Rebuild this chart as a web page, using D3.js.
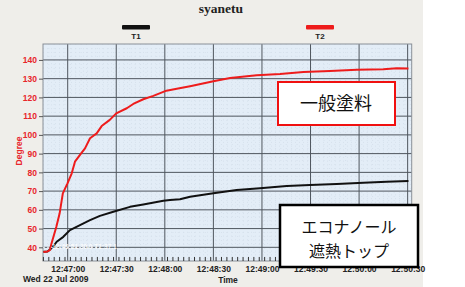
<!DOCTYPE html>
<html>
<head>
<meta charset="utf-8">
<script src="https://cdn.jsdelivr.net/npm/d3@7"></script>
<style>
  body { margin: 0; background: #fff; }
  svg { display: block; }
  .lbl { font-family: "Liberation Sans", Arial, sans-serif; font-weight: bold; }
  .jp { font-family: "Noto Sans CJK JP", sans-serif; }
</style>
</head>
<body>
<svg id="chart" width="465" height="287"></svg>
<script>
// seconds relative to 12:47:00 on Wed 22 Jul 2009
const t1Secs = [-15, -12.5, -10, -8, -6.8, -2.7, 1.4, 7.6, 13.8, 19.9, 28.2, 38.5, 46.7, 59.1, 63.2, 69.4, 75.6, 90, 104.4, 118.8, 135.3, 149.7, 166.2, 182.6, 197, 210.5];
const t1Vals = [37.6, 37.8, 39.5, 41.5, 43, 45.6, 49.2, 51.9, 54.5, 56.8, 59, 61.6, 62.9, 64.8, 65.2, 65.7, 67, 68.8, 70.6, 71.5, 72.7, 73.2, 73.8, 74.5, 75, 75.4];

const t2Secs = [-15, -12.5, -11, -10, -7, -5, -3, -0.2, 2.5, 4.5, 7.6, 10.7, 13.8, 17.9, 21, 26, 30, 36.5, 40.5, 46.7, 52.9, 61, 69, 75.6, 90, 100.3, 116.8, 131.2, 145.6, 162, 178.6, 195, 203.3, 210.5];
const t2Vals = [37.5, 37.8, 38.5, 42, 51, 58, 68.8, 74, 79.5, 85.7, 89.3, 92.8, 98.2, 100.8, 104.7, 108, 111.5, 114.2, 116.5, 119, 120.8, 123.6, 124.9, 126, 128.6, 130.3, 131.8, 132.5, 133.6, 134.1, 134.7, 135, 135.5, 135.4];

const yTicks = [40, 50, 60, 70, 80, 90, 100, 110, 120, 130, 140];
const xTickSecs = [0, 30, 60, 90, 120, 150, 180, 210];
const seriesNames = ["T1", "T2"];
const seriesColors = ["#111111", "#ee1c1c"];

const base = new Date(2009, 6, 22, 12, 47, 0);
const at = s => new Date(base.getTime() + s * 1000);

const svg = d3.select("#chart");
const plotL = 43, plotR = 411.7, plotT = 44, plotB = 261;

const x = d3.scaleTime().domain([at(-15.25), at(212.5)]).range([plotL, plotR]);
const y = d3.scaleLinear().domain([32.7, 148.5]).range([plotB, plotT]);

// page background
svg.append("rect").attr("x", 0).attr("y", 0).attr("width", 423).attr("height", 287).attr("fill", "#efeeea");

// plot area
svg.append("rect").attr("x", plotL).attr("y", plotT).attr("width", plotR - plotL).attr("height", plotB - plotT)
  .attr("fill", "#e3edf7");

// minor grid
const minorY = d3.range(34, 148, 2).filter(v => v % 10 !== 0);
svg.append("g").selectAll("line").data(minorY).join("line")
  .attr("x1", plotL).attr("x2", plotR).attr("y1", d => y(d)).attr("y2", d => y(d))
  .attr("stroke", "#d6e1ec").attr("stroke-dasharray", "1,3");
const minorX = d3.range(-15, 212, 10 / 3);
svg.append("g").selectAll("line").data(minorX).join("line")
  .attr("x1", d => x(at(d))).attr("x2", d => x(at(d))).attr("y1", plotT).attr("y2", plotB)
  .attr("stroke", "#d6e1ec").attr("stroke-dasharray", "1,3");

// major grid
svg.append("g").selectAll("line").data(yTicks).join("line")
  .attr("x1", plotL).attr("x2", plotR).attr("y1", d => y(d)).attr("y2", d => y(d))
  .attr("stroke", "#4f565e").attr("stroke-width", 1);
svg.append("g").selectAll("line").data(xTickSecs).join("line")
  .attr("x1", d => x(at(d))).attr("x2", d => x(at(d))).attr("y1", plotT).attr("y2", plotB)
  .attr("stroke", "#4f565e").attr("stroke-width", 1);

svg.append("rect").attr("x", plotL).attr("y", plotT).attr("width", plotR - plotL).attr("height", plotB - plotT)
  .attr("fill", "none").attr("stroke", "#8a9098");

// minor ticks along bottom, pointing up
svg.append("g").selectAll("line").data(minorX).join("line")
  .attr("x1", d => x(at(d))).attr("x2", d => x(at(d))).attr("y1", plotB).attr("y2", plotB - 4)
  .attr("stroke", "#333");

// y axis
const yAxis = svg.append("g").attr("transform", `translate(${plotL},0)`)
  .call(d3.axisLeft(y).tickValues(yTicks).tickSize(4).tickPadding(2));
yAxis.select(".domain").remove();
yAxis.selectAll("line").attr("stroke", "#555");
yAxis.selectAll("text").attr("class", "lbl").attr("fill", "#e8262b").attr("font-size", 8.5);

// x axis
const xAxis = svg.append("g").attr("transform", `translate(0,${plotB})`)
  .call(d3.axisBottom(x).tickValues(xTickSecs.map(at)).tickFormat(d3.timeFormat("%H:%M:%S")).tickSize(0).tickPadding(5));
xAxis.select(".domain").remove();
xAxis.selectAll("text").attr("class", "lbl").attr("fill", "#222").attr("font-size", 8.5);

svg.append("text").attr("class", "lbl").attr("x", 23).attr("y", 282).attr("font-size", 8.5).attr("fill", "#222")
  .text("Wed 22 Jul 2009");
svg.append("text").attr("class", "lbl").attr("x", 228).attr("y", 283).attr("text-anchor", "middle")
  .attr("font-size", 8.5).attr("fill", "#222").text("Time");
svg.append("text").attr("class", "lbl").attr("transform", "translate(22,151) rotate(-90)")
  .attr("text-anchor", "middle").attr("font-size", 8.5).attr("fill", "#e8262b").text("Degree");

// title
svg.append("text").attr("x", 221).attr("y", 13).attr("text-anchor", "middle")
  .attr("font-family", "'Liberation Serif', 'DejaVu Serif', serif").attr("font-weight", "bold")
  .attr("font-size", 13.5).attr("fill", "#222").text("syanetu");

// legend
const legendX = [136, 320];
const lg = svg.append("g").selectAll("g").data(seriesNames).join("g")
  .attr("transform", (d, i) => `translate(${legendX[i]},0)`);
lg.append("rect").attr("x", -14).attr("y", 25).attr("width", 28).attr("height", 4.5).attr("rx", 1)
  .attr("fill", (d, i) => seriesColors[i]);
lg.append("text").attr("class", "lbl").attr("y", 39).attr("text-anchor", "middle").attr("font-size", 8)
  .attr("fill", "#222").text(d => d);

// series
const line = d3.line().x(d => x(at(d[0]))).y(d => y(d[1]));
const series = [d3.zip(t1Secs, t1Vals), d3.zip(t2Secs, t2Vals)];
svg.append("g").selectAll("path").data(series).join("path")
  .attr("d", line).attr("fill", "none")
  .attr("stroke", (d, i) => seriesColors[i]).attr("stroke-width", 2).attr("stroke-linejoin", "round");

// cursor readout artifact
svg.append("line").attr("x1", plotL).attr("x2", 100).attr("y1", y(40)).attr("y2", y(40))
  .attr("stroke", "#fff").attr("stroke-dasharray", "2,2").attr("opacity", 0.85);
svg.append("text").attr("class", "lbl").attr("x", 52).attr("y", y(40) + 2).attr("font-size", 6.5)
  .attr("fill", "#fff").attr("opacity", 0.85).text("12:46:51 30.0 T1:37.1");

// annotation boxes
svg.append("rect").attr("x", 278).attr("y", 82).attr("width", 117).attr("height", 43)
  .attr("fill", "#fff").attr("stroke", "#f01010").attr("stroke-width", 2);
svg.append("text").attr("class", "jp").attr("x", 336).attr("y", 110).attr("text-anchor", "middle")
  .attr("font-size", 18).attr("fill", "#111").text("一般塗料");

svg.append("rect").attr("x", 280).attr("y", 205).attr("width", 138).attr("height", 62)
  .attr("fill", "#fff").attr("stroke", "#000").attr("stroke-width", 2.5);
svg.append("text").attr("class", "jp").attr("x", 349).attr("y", 233).attr("text-anchor", "middle")
  .attr("font-size", 16).attr("fill", "#111").text("エコナノール");
svg.append("text").attr("class", "jp").attr("x", 349).attr("y", 257).attr("text-anchor", "middle")
  .attr("font-size", 16).attr("fill", "#111").text("遮熱トップ");
</script>
</body>
</html>
